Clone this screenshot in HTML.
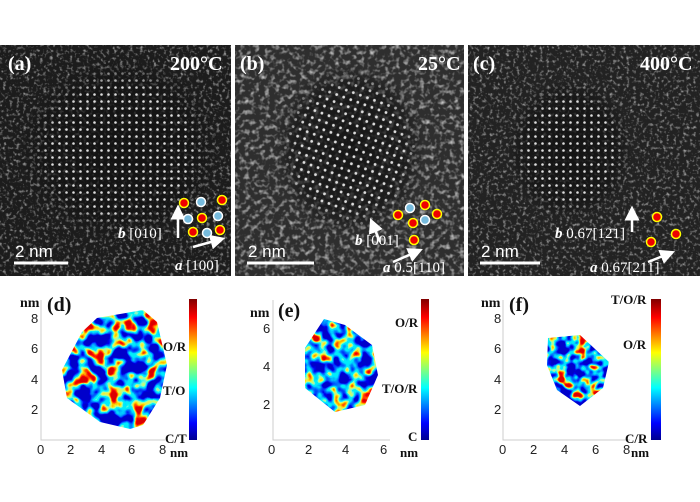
<!DOCTYPE html><html><head><style>body{margin:0;background:#fff}svg{display:block}</style></head><body>
<svg width="700" height="502" viewBox="0 0 700 502" xmlns="http://www.w3.org/2000/svg" font-family="Liberation Serif, serif">
<defs>
<filter id="noise" x="0" y="0" width="100%" height="100%"><feTurbulence type="fractalNoise" baseFrequency="0.3" numOctaves="2" seed="3"/><feColorMatrix type="matrix" values="0 0 0 0 0.55  0 0 0 0 0.55  0 0 0 0 0.55  2.2 0 0 0 -1.15"/><feComposite operator="in" in2="SourceGraphic"/></filter>
<filter id="noise2" x="0" y="0" width="100%" height="100%"><feTurbulence type="fractalNoise" baseFrequency="0.2" numOctaves="2" seed="5"/><feColorMatrix type="matrix" values="0 0 0 0 0.65  0 0 0 0 0.65  0 0 0 0 0.65  2.2 0 0 0 -1.05"/><feComposite operator="in" in2="SourceGraphic"/></filter>
<pattern id="dots" width="7" height="7" patternUnits="userSpaceOnUse"><circle cx="3.5" cy="3.5" r="1.3" fill="#ddd"/></pattern>
<pattern id="dots2" width="7.5" height="7.5" patternUnits="userSpaceOnUse" patternTransform="rotate(20)"><circle cx="3.7" cy="3.7" r="1.4" fill="#ddd"/></pattern>
<radialGradient id="fade"><stop offset="0" stop-color="#fff"/><stop offset=".7" stop-color="#fff"/><stop offset="1" stop-color="#000"/></radialGradient>
<radialGradient id="dark"><stop offset="0" stop-color="#111" stop-opacity=".85"/><stop offset=".75" stop-color="#111" stop-opacity=".6"/><stop offset="1" stop-color="#111" stop-opacity="0"/></radialGradient>
<mask id="ma"><ellipse cx="120" cy="150" rx="100" ry="90" fill="url(#fade)"/></mask>
<mask id="mb"><ellipse cx="350" cy="150" rx="75" ry="85" fill="url(#fade)"/></mask>
<mask id="mc"><ellipse cx="570" cy="150" rx="62" ry="70" fill="url(#fade)"/></mask>
<marker id="ah" markerWidth="6" markerHeight="6" refX="3" refY="3" orient="auto"><path d="M0,0L6,3L0,6z" fill="#fff"/></marker>
<filter id="jet" x="0" y="0" width="100%" height="100%"><feTurbulence type="fractalNoise" baseFrequency="0.075" numOctaves="2" seed="7"/><feColorMatrix type="matrix" values="2.8 0 0 0 -1.05 2.8 0 0 0 -1.05 2.8 0 0 0 -1.05 0 0 0 0 1"/><feComponentTransfer><feFuncR type="table" tableValues="0 0 0 0 0 0 0.5 1 1 1 0.7"/><feFuncG type="table" tableValues="0 0 0.1 0.3 0.8 0.9 1 0.8 0.1 0 0"/><feFuncB type="table" tableValues="0.6 0.9 1 1 1 0.9 0.2 0 0 0 0"/></feComponentTransfer><feComposite operator="in" in2="SourceGraphic"/></filter>
<filter id="jet2" x="0" y="0" width="100%" height="100%"><feTurbulence type="fractalNoise" baseFrequency="0.09" numOctaves="2" seed="11"/><feColorMatrix type="matrix" values="2.8 0 0 0 -1.05 2.8 0 0 0 -1.05 2.8 0 0 0 -1.05 0 0 0 0 1"/><feComponentTransfer><feFuncR type="table" tableValues="0 0 0 0 0 0 0.5 1 1 1 0.7"/><feFuncG type="table" tableValues="0 0 0.1 0.3 0.8 0.9 1 0.8 0.1 0 0"/><feFuncB type="table" tableValues="0.6 0.9 1 1 1 0.9 0.2 0 0 0 0"/></feComponentTransfer><feComposite operator="in" in2="SourceGraphic"/></filter>
<linearGradient id="cb" x1="0" y1="1" x2="0" y2="0"><stop offset="0" stop-color="#00008f"/><stop offset=".12" stop-color="#0000ff"/><stop offset=".37" stop-color="#00ffff"/><stop offset=".62" stop-color="#ffff00"/><stop offset=".87" stop-color="#ff0000"/><stop offset="1" stop-color="#800000"/></linearGradient>
</defs>
<rect x="0" y="45" width="231" height="231" fill="#1c1c1c"/>
<rect x="0" y="45" width="231" height="231" fill="#000" filter="url(#noise)"/>
<ellipse cx="120" cy="150" rx="100" ry="90" fill="url(#dark)"/>
<rect x="0" y="45" width="231" height="231" fill="url(#dots)" mask="url(#ma)"/>
<rect x="235" y="45" width="229" height="231" fill="#2e2e2e"/>
<rect x="235" y="45" width="229" height="231" fill="#000" filter="url(#noise2)"/>
<ellipse cx="350" cy="150" rx="75" ry="85" fill="url(#dark)"/>
<rect x="235" y="45" width="229" height="231" fill="url(#dots2)" mask="url(#mb)"/>
<rect x="468" y="45" width="232" height="231" fill="#222"/>
<rect x="468" y="45" width="232" height="231" fill="#000" filter="url(#noise)"/>
<ellipse cx="570" cy="150" rx="62" ry="70" fill="url(#dark)"/>
<rect x="468" y="45" width="232" height="231" fill="url(#dots)" mask="url(#mc)"/>
<g fill="#fff" font-weight="bold" font-size="20">
<text x="8" y="70">(a)</text><text x="170" y="70">200°C</text>
<text x="240" y="70">(b)</text><text x="418" y="70">25°C</text>
<text x="473" y="70">(c)</text><text x="640" y="70">400°C</text>
</g>
<g fill="#fff" font-family="Liberation Sans, sans-serif" font-size="17">
<text x="15" y="257">2 nm</text><text x="248" y="257">2 nm</text><text x="481" y="257">2 nm</text>
</g>
<g stroke="#fff" stroke-width="3"><line x1="14" y1="263" x2="68" y2="263"/><line x1="247" y1="263" x2="314" y2="263"/><line x1="480" y1="263" x2="540" y2="263"/></g>
<g fill="#fff" font-size="15"><text x="118" y="238"><tspan font-style="italic" font-weight="bold">b</tspan> [010]</text><text x="175" y="270"><tspan font-style="italic" font-weight="bold">a</tspan> [100]</text>
<text x="355" y="245"><tspan font-style="italic" font-weight="bold">b</tspan> [001]</text><text x="383" y="272"><tspan font-style="italic" font-weight="bold">a</tspan> 0.5[110]</text>
<text x="555" y="238"><tspan font-style="italic" font-weight="bold">b</tspan> 0.67[12̄1]</text><text x="590" y="272"><tspan font-style="italic" font-weight="bold">a</tspan> 0.67[211]</text></g>
<g stroke="#fff" stroke-width="2.5" marker-end="url(#ah)"><line x1="178" y1="238" x2="178" y2="212"/><line x1="193" y1="247" x2="218" y2="240"/><line x1="380" y1="242" x2="373" y2="225"/><line x1="393" y1="262" x2="416" y2="252"/><line x1="632" y1="232" x2="632" y2="213"/><line x1="648" y1="262" x2="668" y2="254"/></g>
<g stroke="#ff0" stroke-width="1.5">
<circle cx="184" cy="203" r="4.5" fill="#e00"/><circle cx="222" cy="200" r="4.5" fill="#e00"/><circle cx="202" cy="218" r="4.5" fill="#e00"/><circle cx="193" cy="232" r="4.5" fill="#e00"/><circle cx="220" cy="230" r="4.5" fill="#e00"/>
<circle cx="201" cy="202" r="4.5" fill="#7bd" stroke="#fff"/><circle cx="188" cy="219" r="4.5" fill="#7bd" stroke="#fff"/><circle cx="218" cy="216" r="4.5" fill="#7bd" stroke="#fff"/><circle cx="207" cy="233" r="4.5" fill="#7bd" stroke="#fff"/>
<circle cx="398" cy="215" r="4.5" fill="#e00"/><circle cx="425" cy="205" r="4.5" fill="#e00"/><circle cx="437" cy="214" r="4.5" fill="#e00"/><circle cx="413" cy="223" r="4.5" fill="#e00"/><circle cx="414" cy="240" r="4.5" fill="#e00"/>
<circle cx="410" cy="208" r="4.5" fill="#7bd" stroke="#fff"/><circle cx="425" cy="220" r="4.5" fill="#7bd" stroke="#fff"/>
<circle cx="657" cy="217" r="4.5" fill="#e00"/><circle cx="651" cy="242" r="4.5" fill="#e00"/><circle cx="676" cy="234" r="4.5" fill="#e00"/>
</g>
<g font-family="Liberation Sans, sans-serif" font-size="13" fill="#222">
<path d="M41 300V440H165" fill="none" stroke="#ccc"/>
<text x="37" y="454">0</text><text x="67" y="454">2</text><text x="98" y="454">4</text><text x="128" y="454">6</text><text x="159" y="454">8</text>
<text x="31" y="323">8</text><text x="31" y="353">6</text><text x="31" y="384">4</text><text x="31" y="414">2</text>
<path d="M273 300V440H390" fill="none" stroke="#ccc"/>
<text x="268" y="454">0</text><text x="305" y="454">2</text><text x="342" y="454">4</text><text x="380" y="454">6</text>
<text x="263" y="333">6</text><text x="263" y="371">4</text><text x="263" y="409">2</text>
<path d="M503 300V440H630" fill="none" stroke="#ccc"/>
<text x="499" y="454">0</text><text x="530" y="454">2</text><text x="561" y="454">4</text><text x="592" y="454">6</text><text x="623" y="454">8</text>
<text x="494" y="323">8</text><text x="494" y="353">6</text><text x="494" y="384">4</text><text x="494" y="414">2</text>
</g>
<polygon points="97,318 143,310 157,322 167,365 160,398 143,425 130,429 100,422 67,398 62,370 82,332" fill="#000" filter="url(#jet)"/>
<polygon points="324,319 345,325 372,345 378,375 365,405 335,412 305,388 305,348" fill="#000" filter="url(#jet)"/>
<polygon points="548,338 580,335 609,362 603,388 580,406 557,390 547,365" fill="#000" filter="url(#jet2)"/>
<rect x="189" y="299" width="8" height="141" fill="url(#cb)"/>
<rect x="421" y="299" width="8" height="141" fill="url(#cb)"/>
<rect x="651" y="299" width="10" height="141" fill="url(#cb)"/>
<g font-weight="bold" fill="#111">
<text x="20" y="307" font-size="14">nm</text><text x="47" y="311" font-size="20">(d)</text>
<text x="250" y="317" font-size="14">nm</text><text x="278" y="317" font-size="20">(e)</text>
<text x="481" y="307" font-size="14">nm</text><text x="509" y="311" font-size="20">(f)</text>
<g font-size="13"><text x="163" y="351">O/R</text><text x="163" y="395">T/O</text><text x="165" y="443">C/T</text><text x="170" y="457">nm</text>
<text x="395" y="327">O/R</text><text x="382" y="393">T/O/R</text><text x="408" y="441">C</text><text x="400" y="457">nm</text>
<text x="611" y="304">T/O/R</text><text x="623" y="349">O/R</text><text x="625" y="443">C/R</text><text x="631" y="457">nm</text></g>
</g>
</svg>
</body></html>
